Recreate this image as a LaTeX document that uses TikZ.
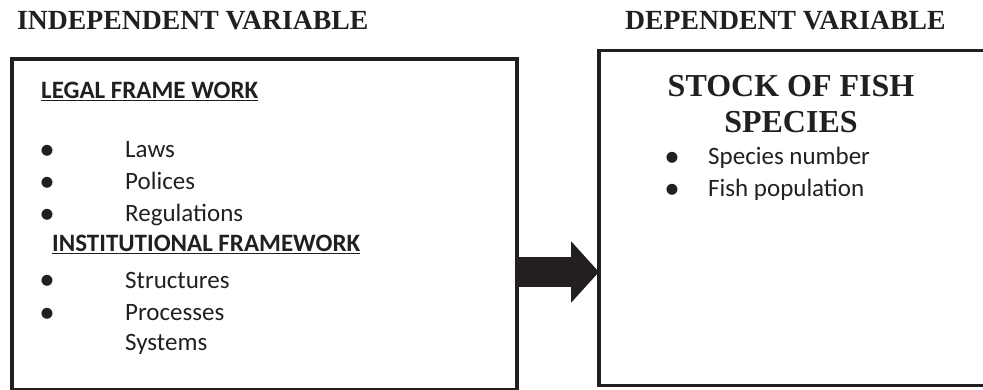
\documentclass[tikz,border=0pt]{standalone}
\usepackage{fontspec}
\setmainfont{Liberation Serif}
\newfontfamily\calib{Carlito}
\usetikzlibrary{arrows.meta}
\definecolor{ink}{RGB}{35,31,32}
\begin{document}
\begin{tikzpicture}[x=1pt,y=-1pt,
  box/.style={draw=ink, line width=3.5pt, rectangle, inner sep=0pt, outer sep=0pt, anchor=north west},
  head/.style={text=ink, font=\fontsize{27.7}{30}\selectfont\bfseries, anchor=base west, inner sep=0pt},
  title/.style={text=ink, font=\fontsize{32}{34}\selectfont\bfseries, anchor=base, inner sep=0pt},
  sub/.style={text=ink, font=\calib\fontsize{25}{28}\selectfont\bfseries, anchor=base west, inner sep=0pt},
  item/.style={text=ink, font=\calib\fontsize{25}{28}\selectfont, anchor=base west, inner sep=0pt},
  bul/.style={text=ink, font=\calib\fontsize{31}{31}\selectfont, anchor=base, inner sep=0pt},
  bigarrow/.style={ink, line width=30pt, -{Triangle[length=28pt,width=60pt]}}
]
\useasboundingbox (0,0) rectangle (983,390);
% headers
\node[head] (hind) at (17,30) {INDEPENDENT VARIABLE};
\node[head] (hdep) at (625,30) {DEPENDENT VARIABLE};
% boxes
\node[box, minimum width=505pt, minimum height=331pt] (L) at (12,59) {};
\node[box, minimum width=386pt, minimum height=335pt] (R) at (599,50.5) {};
% arrow
\draw[bigarrow] (L.east |- 0,272) -- (R.west |- 0,272);
% left content
\node[sub] (legal) at (41,99) {\underline{LEGAL FRAME WORK}};
\node[bul] (b1) at (47,160) {•};
\node[item] (laws) at (125,158) {Laws};
\node[bul] (b2) at (47,192) {•};
\node[item] (pol) at (125,190) {Polices};
\node[bul] (b3) at (47,224) {•};
\node[item] (reg) at (125,222) {Regulations};
\node[sub] (inst) at (52,252) {\underline{INSTITUTIONAL FRAMEWORK}};
\node[bul] (b4) at (47,290) {•};
\node[item] (str) at (125,288) {Structures};
\node[bul] (b5) at (47,322) {•};
\node[item] (proc) at (125,320) {Processes};
\node[item] (sys) at (125,350) {Systems};
% right content
\node[title] (stock) at (791,97) {STOCK OF FISH};
\node[title] (spec) at (791,133) {SPECIES};
\node[bul] (b6) at (672,167) {•};
\node[item] (snum) at (708,165) {Species number};
\node[bul] (b7) at (672,199) {•};
\node[item] (fpop) at (708,197) {Fish population};
\end{tikzpicture}
\end{document}
